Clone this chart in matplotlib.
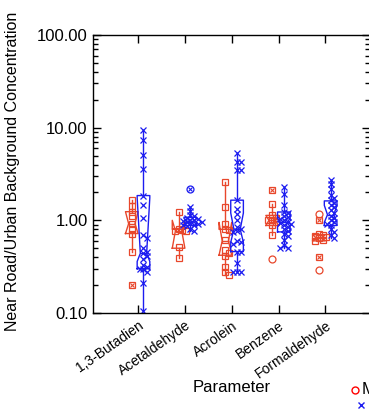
import numpy as np
import matplotlib
matplotlib.use("Agg")
import matplotlib.pyplot as plt
from matplotlib.lines import Line2D
from matplotlib.ticker import FormatStrFormatter, LogLocator, NullFormatter

plt.rcParams["font.family"] = ["Liberation Sans", "DejaVu Sans"]

RED, BLUE = "#e8472b", "#1c1cf0"

params = ["1,3-Butadien", "Acetaldehyde", "Acrolein", "Benzene", "Formaldehyde"]

# ratios, red series (legend "M...")
red_pts = [
    [1.67, 1.44, 1.24, 1.12, 0.92, 0.81, 0.72, 0.46, 0.20],
    [1.23, 0.80, 0.78, 0.77, 0.76, 0.52, 0.39],
    [2.6, 1.4, 0.92, 0.80, 0.78, 0.62, 0.48, 0.44, 0.41, 0.31, 0.28, 0.26],
    [2.1, 1.5, 1.13, 1.07, 1.02, 1.0, 0.95, 0.88, 0.70, 0.38],
    [1.18, 1.0, 0.72, 0.70, 0.68, 0.66, 0.64, 0.62, 0.60, 0.40, 0.29],
]
# ratios, blue series
blue_pts = [
    [9.4, 7.4, 5.1, 3.6, 1.85, 1.45, 1.07, 0.69, 0.64, 0.50, 0.46, 0.44, 0.41, 0.38,
     0.33, 0.31, 0.30, 0.30, 0.28, 0.21, 0.104],
    [2.2, 1.40, 1.27, 1.13, 1.10, 1.06, 1.04, 1.02, 1.0, 0.98, 0.97, 0.95, 0.93, 0.92,
     0.90, 0.88, 0.86, 0.80, 0.77],
    [5.3, 4.3, 4.3, 3.45, 3.45, 1.65, 1.34, 1.18, 1.0, 0.85, 0.80, 0.76, 0.74, 0.60,
     0.58, 0.55, 0.46, 0.46, 0.35, 0.28, 0.28, 0.28],
    [2.28, 1.94, 1.45, 1.23, 1.20, 1.12, 1.08, 1.04, 1.0, 0.97, 0.94, 0.92, 0.88, 0.85,
     0.80, 0.76, 0.72, 0.67, 0.62, 0.54, 0.50, 0.50],
    [2.74, 2.48, 2.19, 1.86, 1.75, 1.64, 1.55, 1.45, 1.40, 1.30, 1.20, 1.12, 1.05, 1.0,
     0.95, 0.92, 0.88, 0.80, 0.75, 0.70, 0.64],
]

# box statistics
red_q1 = [0.72, 0.50, 0.42, 0.88, 0.60]
red_med = [0.92, 0.77, 0.60, 1.00, 0.65]
red_q3 = [1.24, 0.80, 0.80, 1.13, 0.70]
red_lo = [0.46, 0.39, 0.26, 0.70, 0.60]
red_hi = [1.67, 1.23, 2.60, 1.50, 0.72]
red_cilo = [0.72, 0.50, 0.42, 0.88, 0.60]
red_cihi = [1.24, 1.00, 0.95, 1.13, 0.70]

blue_q1 = [0.30, 0.88, 0.46, 0.75, 0.88]
blue_med = [0.44, 0.97, 0.80, 0.95, 1.15]
blue_q3 = [1.85, 1.08, 1.65, 1.23, 1.62]
blue_lo = [0.104, 0.77, 0.28, 0.50, 0.64]
blue_hi = [9.4, 1.40, 5.3, 2.28, 2.74]
blue_cilo = [0.36, 0.90, 0.58, 0.85, 0.95]
blue_cihi = [1.75, 1.05, 1.20, 1.05, 1.45]


def swarm(vals, center, step=0.08, thr=0.04):
    """spread points that sit at nearly the same height side by side"""
    placed, xs = [], []
    for v in vals:
        lv = np.log10(v)
        k = 0
        while True:
            off = ((k + 1) // 2) * step * (1 if k % 2 else -1)
            if all(abs(lv - pl) > thr or abs(off - po) > step * 0.5 for pl, po in placed):
                break
            k += 1
        placed.append((lv, off))
        xs.append(center + off)
    return np.array(xs)


def draw_series(ax, pts, q1, med, q3, lo, hi, cilo, cihi, shift, color, inner):
    pos = np.arange(1, len(pts) + 1) + shift
    stats = [dict(q1=a, med=b, q3=c, whislo=d, whishi=e, cilo=f, cihi=g, fliers=[])
             for a, b, c, d, e, f, g in zip(q1, med, q3, lo, hi, cilo, cihi)]
    ln = dict(color=color, lw=1.0)
    ax.bxp(stats, positions=pos, widths=0.27, shownotches=True, showcaps=False,
           showfliers=False, boxprops=ln, whiskerprops=ln, medianprops=ln)
    for i, vals in enumerate(pts):
        vals = np.array(vals)
        xs = swarm(vals, pos[i])
        liqr = np.log10(q3[i] / q1[i])
        out = (vals < lo[i]) | (vals > hi[i])
        far = out & ((np.log10(q1[i] / vals) > 3 * liqr) | (np.log10(vals / q3[i]) > 3 * liqr))
        mild = out & ~far
        kw = dict(ls="none", ms=4, mew=0.9, color=color, mfc="none")
        ax.plot(xs[~far], vals[~far], marker=inner, **kw)
        ax.plot(xs[far], vals[far], marker="o", ms=5, ls="none", mew=0.9, color=color, mfc="none")
        if inner == "s":
            ax.plot(xs[mild], vals[mild], marker="x", ms=3, ls="none", mew=0.8, color=color)
        else:
            ax.plot(xs[far], vals[far], marker="x", ms=3, ls="none", mew=0.8, color=color)


fig = plt.figure(figsize=(3.69, 4.12), dpi=100)
ax = fig.add_axes([0.2528, 0.2403, 0.7505, 0.6748])
ax.set_yscale("log")

draw_series(ax, red_pts, red_q1, red_med, red_q3, red_lo, red_hi, red_cilo, red_cihi, -0.14, RED, "s")
draw_series(ax, blue_pts, blue_q1, blue_med, blue_q3, blue_lo, blue_hi, blue_cilo, blue_cihi, 0.11, BLUE, "x")

ax.set_ylim(0.1, 100)
ax.set_xlim(0.037, 5.956)
ax.yaxis.set_major_locator(LogLocator(base=10))
ax.yaxis.set_minor_locator(LogLocator(base=10, subs=np.arange(2, 10)))
ax.yaxis.set_major_formatter(FormatStrFormatter("%.2f"))
ax.yaxis.set_minor_formatter(NullFormatter())
ax.set_xticks(range(1, 6))
ax.set_xticklabels(params, rotation=35, ha="right", rotation_mode="anchor", fontsize=10)
ax.tick_params(which="both", direction="in", top=True, right=True, width=1.0)
ax.tick_params(which="major", length=6)
ax.tick_params(which="minor", length=3.5)
ax.tick_params(axis="y", labelsize=12, pad=4)
ax.tick_params(axis="x", pad=4)
for s in ax.spines.values():
    s.set_linewidth(1.0)

ax.set_ylabel("Near Road/Urban Background Concentration", fontsize=11.5)
ax.yaxis.set_label_coords(-0.265, 0.51)
fig.text(232 / 369, 1 - 387 / 412, "Parameter", ha="center", va="center", fontsize=12)

# legend, cut off by the right edge of the figure as in the source
fig.add_artist(Line2D([355 / 369], [1 - 390 / 412], marker="o", ms=5, mew=1.0, color="#ff0000",
                      mfc="none", ls="none", transform=fig.transFigure))
fig.text(362 / 369, 1 - 390 / 412, "Mobile", ha="left", va="center", fontsize=12)
fig.add_artist(Line2D([361 / 369], [1 - 405 / 412], marker="x", ms=4, mew=1.0, color=BLUE,
                      ls="none", transform=fig.transFigure))

fig.savefig("out.png", dpi=100)
